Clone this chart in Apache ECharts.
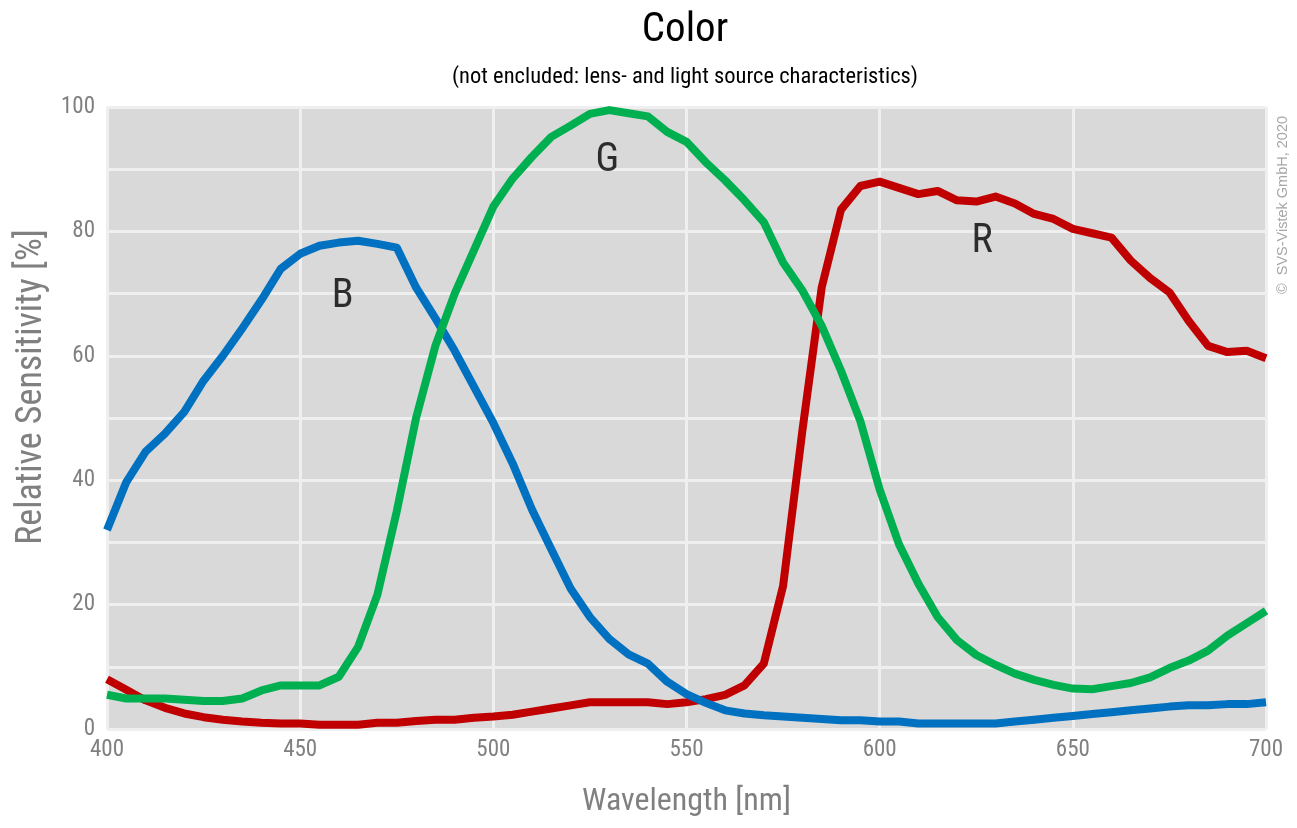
<!DOCTYPE html>
<html>
<head>
<meta charset="utf-8">
<script src="https://cdn.jsdelivr.net/npm/echarts@6/dist/echarts.min.js"></script>
<style>
html,body{margin:0;padding:0;background:#fff}#chart{width:1297px;height:828px}
</style>
</head>
<body>
<div id="chart"></div>
<script>
const wavelengths = [400,405,410,415,420,425,430,435,440,445,450,455,460,465,470,475,480,485,490,495,500,505,510,515,520,525,530,535,540,545,550,555,560,565,570,575,580,585,590,595,600,605,610,615,620,625,630,635,640,645,650,655,660,665,670,675,680,685,690,695,700];
const redValues = [8.0,6.3,4.6,3.4,2.5,1.9,1.5,1.2,1.0,0.9,0.9,0.7,0.7,0.7,1.0,1.0,1.3,1.5,1.5,1.8,2.0,2.3,2.8,3.3,3.8,4.3,4.3,4.3,4.3,4.0,4.3,4.8,5.5,7.0,10.5,23,48,71,83.5,87.3,88,87,86,86.5,85,84.8,85.6,84.5,82.8,82,80.4,79.7,79,75.3,72.5,70.2,65.6,61.6,60.6,60.8,59.6];
const blueValues = [32,39.7,44.6,47.5,51,56,60,64.4,69,74,76.4,77.7,78.2,78.5,78,77.4,71,66,60.8,55,49.2,42.7,35.3,28.9,22.6,18,14.5,12,10.5,7.6,5.6,4.2,3.0,2.5,2.2,2.0,1.8,1.6,1.4,1.4,1.2,1.2,0.9,0.9,0.9,0.9,0.9,1.2,1.5,1.8,2.1,2.4,2.7,3.0,3.3,3.6,3.8,3.8,4.0,4.0,4.3];
const greenValues = [5.5,4.9,4.9,4.9,4.7,4.5,4.5,4.9,6.2,7.0,7.0,7.0,8.4,13.2,21.6,35,50,61.6,70,77,84,88.5,92,95.2,97,98.9,99.5,99,98.5,96,94.4,91.1,88.2,85,81.5,75,70.5,64.8,57.6,49.5,38.5,29.7,23.4,18,14.3,11.9,10.3,8.9,7.9,7.1,6.5,6.4,6.9,7.4,8.3,9.8,11,12.6,15,17,19];
const yTickLabels = ['0','20','40','60','80','100'];
const curveNames = ['B','G','R'];
const curveLabelX = [461,529.5,626.5];
const curveLabelY = [69.5,91.3,78.3];
const titleText = 'Color';
const subtitleText = '(not encluded: lens- and light source characteristics)';
const copyrightText = '©  SVS-Vistek GmbH, 2020';

const FONT = '"Roboto Condensed","Liberation Sans Narrow",sans-serif';
const pair = (xs, ys) => xs.map((x, i) => [x, ys[i]]);

function draw() {
  const chart = echarts.init(document.getElementById('chart'), null, {renderer: 'canvas'});
  const lineSeries = (name, data, color) => ({
    name, type: 'line', data: pair(wavelengths, data), symbol: 'none', smooth: false,
    lineStyle: {color, width: 8, join: 'round', cap: 'butt'}, z: 3
  });
  chart.setOption({
    animation: false,
    backgroundColor: '#ffffff',
    grid: {left: 107, right: 31, top: 107, bottom: 99, show: true, backgroundColor: '#d9d9d9', borderWidth: 0, containLabel: false, outerBoundsMode: 'none'},
    xAxis: {
      type: 'value', min: 400, max: 700, interval: 50,
      name: 'Wavelength [nm]', nameLocation: 'middle', nameGap: 57,
      nameTextStyle: {fontFamily: FONT, fontSize: 32, color: '#808080'},
      axisLine: {show: false}, axisTick: {show: false},
      axisLabel: {fontFamily: FONT, fontSize: 23, color: '#808080', margin: 10},
      splitLine: {show: true, lineStyle: {color: '#efefef', width: 3}}
    },
    yAxis: {
      type: 'value', min: 0, max: 100, interval: 10,
      name: 'Relative Sensitivity [%]', nameLocation: 'middle', nameGap: 57,
      nameTextStyle: {fontFamily: FONT, fontSize: 36, color: '#808080', padding: [0, 0, 0, 62]},
      axisLine: {show: false}, axisTick: {show: false},
      axisLabel: {fontFamily: FONT, fontSize: 23, color: '#808080', margin: 12,
        formatter: v => (v % 20 === 0 ? yTickLabels[v / 20] : '')},
      splitLine: {show: true, lineStyle: {color: '#efefef', width: 3}}
    },
    series: [
      lineSeries('R', redValues, '#c00000'),
      lineSeries('B', blueValues, '#0070c0'),
      lineSeries('G', greenValues, '#00b050'),
      {
        type: 'scatter', symbolSize: 0, z: 5, silent: true,
        data: curveNames.map((n, i) => ({name: n, value: [curveLabelX[i], curveLabelY[i]]})),
        label: {show: true, position: 'inside', formatter: p => p.name, fontFamily: FONT, fontSize: 40, color: '#000'}
      }
    ],
    graphic: [
      {type: 'text', x: 685, y: 31,
        style: {text: titleText, fontFamily: FONT, fontSize: 41, fill: '#000', textAlign: 'center', textVerticalAlign: 'middle'}},
      {type: 'text', x: 685, y: 77,
        style: {text: subtitleText, fontFamily: FONT, fontSize: 22.5, fill: '#000', textAlign: 'center', textVerticalAlign: 'middle'}},
      {type: 'text', x: 1283, y: 205, rotation: Math.PI / 2,
        style: {text: copyrightText, fontFamily: '"Liberation Sans",Arial,sans-serif', fontSize: 14.5, fill: '#a6a6a6', textAlign: 'center', textVerticalAlign: 'middle'}}
    ]
  });
}
if (document.fonts && document.fonts.load) {
  document.fonts.load('24px "Roboto Condensed"').then(draw, draw);
} else { draw(); }
</script>
</body>
</html>
